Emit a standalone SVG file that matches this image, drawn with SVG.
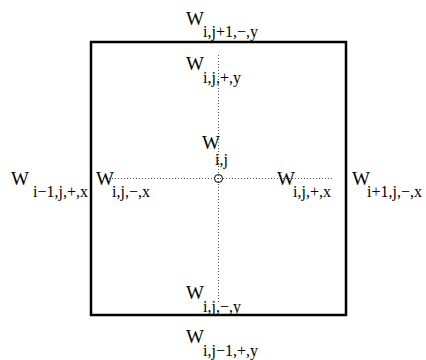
<svg xmlns="http://www.w3.org/2000/svg" width="426" height="360" viewBox="0 0 426 360">
<style>
.w{font-family:"Liberation Serif","Times New Roman",serif;font-size:19px;fill:#000}
.s{font-family:"Liberation Serif","Times New Roman",serif;font-size:16px;fill:#000}
.dot{stroke:#555;stroke-width:1;stroke-dasharray:1 2;fill:none}
</style>
<rect width="426" height="360" fill="#fff"/>
<g id="cell">
<rect x="91" y="42" width="255" height="273" fill="none" stroke="#000" stroke-width="2.5"/>
</g>
<g id="connectors">
<line class="dot" x1="218.5" y1="55" x2="218.5" y2="302"/>
<line class="dot" x1="100" y1="178.5" x2="334" y2="178.5"/>
</g>
<g id="center">
<circle cx="218.5" cy="178.5" r="4" fill="none" stroke="#000" stroke-width="1"/>
</g>
<g id="top-outer"><text class="w" x="186" y="25">W</text><text class="s" x="203" y="37">i,j+1,−,y</text></g>
<g id="top-inner"><text class="w" x="186" y="70">W</text><text class="s" x="203" y="83">i,j,+,y</text></g>
<g id="mid"><text class="w" x="202" y="149">W</text><text class="s" x="215" y="165">i,j</text></g>
<g id="left-outer"><text class="w" x="11" y="185">W</text><text class="s" x="33" y="197">i−1,j,+,x</text></g>
<g id="left-inner"><text class="w" x="96" y="185">W</text><text class="s" x="112" y="197">i,j,−,x</text></g>
<g id="right-inner"><text class="w" x="277" y="185">W</text><text class="s" x="293" y="197">i,j,+,x</text></g>
<g id="right-outer"><text class="w" x="352" y="185">W</text><text class="s" x="367" y="197">i+1,j,−,x</text></g>
<g id="bottom-inner"><text class="w" x="186" y="299">W</text><text class="s" x="203" y="312">i,j,−,y</text></g>
<g id="bottom-outer"><text class="w" x="186" y="343">W</text><text class="s" x="203" y="356">i,j−1,+,y</text></g>
</svg>
